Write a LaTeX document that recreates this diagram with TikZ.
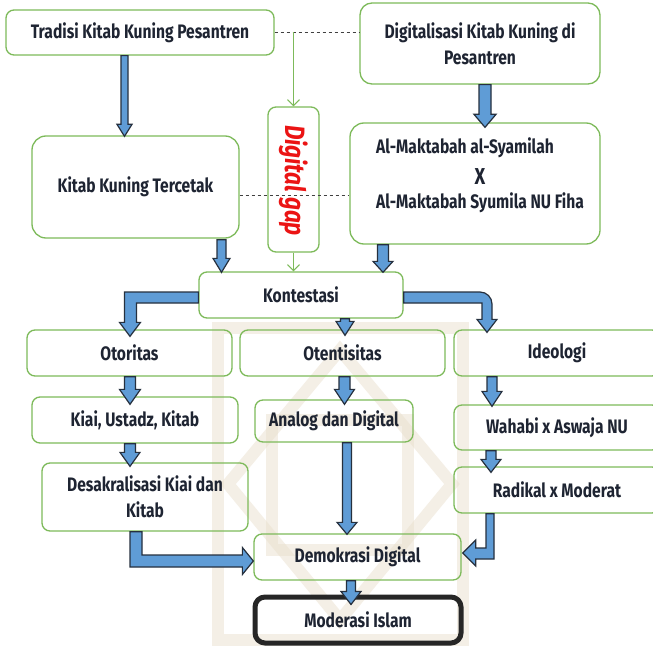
\documentclass[tikz,border=0pt]{standalone}
\usepackage{fontspec}
\setmainfont{Fira Sans}[FakeStretch=0.8]
\usetikzlibrary{calc,arrows.meta}
\definecolor{gbord}{RGB}{125,186,90}
\definecolor{ablue}{RGB}{95,156,214}
\definecolor{aline}{RGB}{38,48,62}
\definecolor{txt}{RGB}{30,36,50}
\definecolor{wm}{RGB}{234,224,206}
\definecolor{dgred}{RGB}{235,20,20}
\newcommand\dnarrow[5]{%
  \draw[blk] let \p1=#1, \p2=#2 in
    (\x1-#3,\y1) -- (\x1+#3,\y1) -- (\x1+#3,\y2+#5) -- (\x1+#4,\y2+#5) --
    (\x1,\y2) -- (\x1-#4,\y2+#5) -- (\x1-#3,\y2+#5) -- cycle;}
\begin{document}
\begin{tikzpicture}[x=1pt,y=-1pt,
  box/.style={draw=gbord, line width=1.3pt, rounded corners=8pt, align=center,
    text=txt, font=\fontsize{19.5}{26}\selectfont\bfseries, inner sep=0pt},
  lbl/.style={text=txt, font=\fontsize{19.5}{26}\selectfont\bfseries, inner sep=0pt},
  blk/.style={fill=ablue, draw=aline, line width=1.2pt, line join=miter},
  dashline/.style={draw=black!75, line width=0.9pt, dash pattern=on 3.5pt off 2.5pt},
  garrow/.style={draw=gbord, line width=1.1pt, -{Straight Barb[length=6pt,width=12pt]}},
  wmk/.style={draw=wm, line width=12pt, opacity=0.5}]
\useasboundingbox (0,0) rectangle (653,647);
\clip (0,0) rectangle (653,647);
\fill[white] (0,0) rectangle (653,647);
% watermark (approximation)
\draw[wmk] (218,328) rectangle (463,640);
\draw[wmk] (340,350) -- (452,484) -- (340,620) -- (228,484) -- cycle;
\draw[wmk] (272,420) rectangle (408,550);
% boxes
\node[box, minimum width=268, minimum height=45] (trad) at (140,32.5) {Tradisi Kitab Kuning Pesantren};
\node[box, minimum width=240, minimum height=81, rounded corners=12pt] (digi) at (480,43.5) {Digitalisasi Kitab Kuning di\\Pesantren};
\node[box, minimum width=51, minimum height=145] (dg) at (293.5,179.5) {};
\node[text=dgred, rotate=-90, inner sep=0pt, font=\fontsize{28}{29}\selectfont\bfseries\itshape] (dgt) at (294,180.5) {Digital gap};
\node[box, minimum width=207, minimum height=102, rounded corners=14pt] (kkt) at (135.5,187) {Kitab Kuning Tercetak};
\node[box, minimum width=250, minimum height=121, rounded corners=14pt] (mak) at (475,183.5) {};
\node[lbl, anchor=west] (mak1) at (376,148) {Al-Maktabah al-Syamilah};
\node[lbl] (makx) at (480,177) {\fontsize{23}{24}\selectfont X};
\node[lbl, anchor=west] (mak2) at (376,203) {Al-Maktabah Syumila NU Fiha};
\node[box, minimum width=204, minimum height=46, fill=white] (kon) at (301,295) {Kontestasi};
\node[box, minimum width=205, minimum height=46] (oto) at (129.5,353) {Otoritas};
\node[box, minimum width=205, minimum height=46] (ote) at (342.5,353) {Otentisitas};
\node[box, minimum width=206, minimum height=46] (ideo) at (557,353) {Ideologi};
\node[box, minimum width=206, minimum height=46] (kiai) at (135,420) {Kiai, Ustadz, Kitab};
\node[box, minimum width=158, minimum height=42] (ana) at (334,421) {Analog dan Digital};
\node[box, minimum width=206, minimum height=45] (wah) at (557,427.5) {Wahabi x Aswaja NU};
\node[box, minimum width=206, minimum height=68] (des) at (145,497) {Desakralisasi Kiai dan\\Kitab};
\node[box, minimum width=206, minimum height=46] (rad) at (557,490) {Radikal x Moderat};
\node[box, minimum width=207, minimum height=46] (dem) at (357.5,557) {Demokrasi Digital};
\node[box, draw=black!85, line width=5pt, rounded corners=10pt, minimum width=206, minimum height=46] (mod) at (358,620) {Moderasi Islam};
% dashed links and green arrows
\draw[dashline] (trad.east) -- (trad.east -| digi.west);
\coordinate (gs) at (trad.east -| dg.north);
\draw[garrow] (gs) -- (dg.north);
\draw[garrow] (dg.south) -- (dg.south |- kon.north);
\coordinate (d2) at ($(kkt.east)+(0,8)$);
\draw[dashline] (d2) -- (d2 -| mak.west);
% straight block arrows
\dnarrow{($(trad.south)+(-15.5,0)$)}{($(kkt.north)+(0,1)$)}{3.5pt}{7.5pt}{12pt}
\dnarrow{($(digi.south)+(5,0)$)}{($(mak.north)+(0,5)$)}{6pt}{11pt}{13pt}
\dnarrow{($(kkt.south)+(86,1)$)}{($(kon.north)+(0,1)$)}{4.5pt}{8.5pt}{14pt}
\dnarrow{($(mak.south)+(-92,0)$)}{($(kon.north)+(0,1)$)}{5.5pt}{10pt}{11pt}
\dnarrow{($(kon.south)+(44,0)$)}{($(ote.north)+(0,6)$)}{4.5pt}{9pt}{14pt}
\dnarrow{($(oto.south)+(0.5,0)$)}{($(kiai.north)+(0,8)$)}{5.5pt}{10.5pt}{15pt}
\dnarrow{($(ote.south)+(2,0)$)}{($(ana.north)+(0,5)$)}{5.5pt}{10pt}{15pt}
\dnarrow{($(ideo.south)+(-65,0)$)}{($(wah.north)+(0,2)$)}{5pt}{10pt}{15pt}
\dnarrow{($(kiai.south)+(-5,0)$)}{($(des.north)+(0,4)$)}{5.5pt}{10pt}{14pt}
\dnarrow{($(wah.south)+(-66,0)$)}{($(rad.north)+(0,6)$)}{5pt}{10pt}{13pt}
\dnarrow{($(ana.south)+(13,0)$)}{($(dem.north)+(0,1)$)}{4.5pt}{10pt}{12pt}
\dnarrow{($(dem.south)+(-6.5,0)$)}{($(mod.north)+(0,10)$)}{4.5pt}{10pt}{13pt}
% elbow block arrows
\draw[blk] let \p1=(kon.west), \p2=(oto.north) in
  (\x1,\y1+3pt) -- (\x2-5pt,\y1+3pt) -- (\x2-5pt,\y2+7pt) -- (\x2-10pt,\y2+7pt) --
  (\x2+0.5pt,\y2-7pt) -- (\x2+11pt,\y2+7pt) -- (\x2+7pt,\y2+7pt) -- (\x2+7pt,\y1-8pt) --
  (\x1,\y1-8pt) -- cycle;
\draw[blk] let \p1=(kon.east), \p2=(ideo.north), \p3=($(ideo.north)+(-70,0)$) in
  (\x1,\y1+3pt) -- (\x3-7pt,\y1+3pt) arc[start angle=90,end angle=0,radius=12pt] --
  (\x3+5pt,\y2+10pt) -- (\x3+10pt,\y2+10pt) -- (\x3,\y2-3pt) -- (\x3-10pt,\y2+10pt) --
  (\x3-5pt,\y2+10pt) -- (\x3-5pt,\y1-8pt) -- (\x1,\y1-8pt) -- cycle;
\draw[blk] let \p1=(des.south), \p2=(dem.west) in
  (\x1-15pt,\y1) -- (\x1-3pt,\y1) -- (\x1-3pt,\y2+2pt) -- (\x2-11pt,\y2+2pt) --
  (\x2-11pt,\y2+9.5pt) -- (\x2,\y2-4pt) -- (\x2-11pt,\y2-17.5pt) -- (\x2-11pt,\y2-10pt) --
  (\x1-15pt,\y2-10pt) -- cycle;
\draw[blk] let \p1=(rad.south), \p2=(dem.east) in
  (\x1-71pt,\y1) -- (\x1-63pt,\y1) -- (\x1-63pt,\y2-2pt) -- (\x2+14pt,\y2-2pt) --
  (\x2+14pt,\y2-9pt) -- (\x2+1pt,\y2+4pt) -- (\x2+14pt,\y2+17pt) -- (\x2+14pt,\y2+9pt) --
  (\x1-71pt,\y2+9pt) -- cycle;
\end{tikzpicture}
\end{document}
